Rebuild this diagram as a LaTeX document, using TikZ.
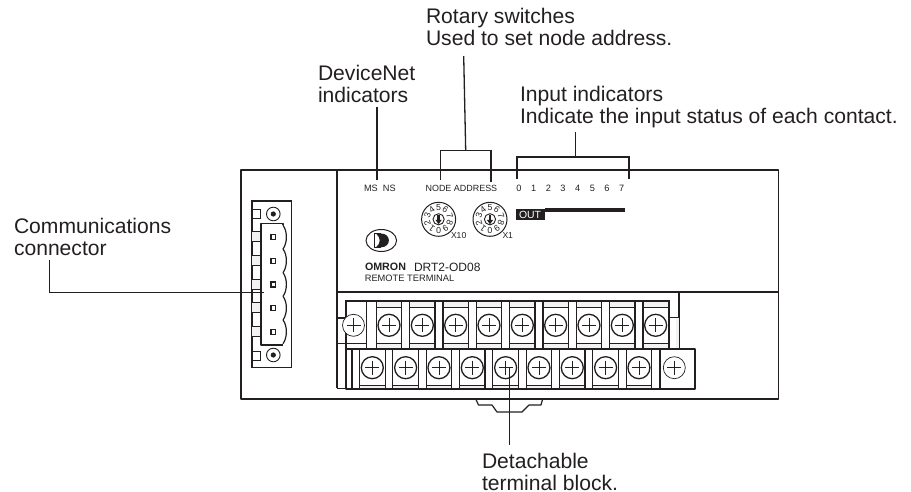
\documentclass[tikz,border=0pt]{standalone}
\usepackage{fontspec}
\usetikzlibrary{shapes.geometric}
\setmainfont{Liberation Sans}
\definecolor{ink}{HTML}{231F20}
\definecolor{band}{HTML}{F2F2F2}
\newcommand{\pxfont}[2]{\fontsize{#1}{#2}\selectfont}
\tikzset{
  heavy/.style={draw=ink,line width=1.6pt},
  medium/.style={draw=ink,line width=1.2pt},
  fine/.style={draw=ink,line width=0.6pt},
  leader/.style={draw=ink,line width=1.3pt},
  callout/.style={inner sep=0pt,outer sep=0pt,align=left,anchor=base west,text=ink,font=\pxfont{21.1}{22}},
  panel/.style={inner sep=0pt,outer sep=0pt,anchor=base west,text=ink},
  screwhead/.style={draw=ink,line width=1.3pt,fill=white,circle,minimum size=22pt,inner sep=0pt},
  lightscrew/.style={draw=ink,line width=0.7pt,fill=white,circle,minimum size=22pt,inner sep=0pt},
}
\begin{document}
\begin{tikzpicture}[x=1pt,y=-1pt]
\useasboundingbox (0,0) rectangle (911,492);
% housing
\draw[heavy,line join=round] (241,170) rectangle (778.5,399);
\draw[heavy] (337,170) -- (337,388);
\draw[heavy] (337,292) -- (778.5,292);
\draw[heavy] (679,292) -- (679,349);
% DIN tab
\draw[medium,line join=round] (476,399.5) -- (478.5,405) -- (492,405) -- (497,412) -- (522,412) -- (529,405) -- (541,405) -- (542.5,399.5);
% connector body
\draw[medium] (252,201) rectangle (291.7,367.7);
\foreach \k in {0,...,4}{
  \fill[band] (252,231.7+23.67*\k) rectangle (261,241.7+23.67*\k);
  \draw[fine] (252,231.7+23.67*\k) -- (261,231.7+23.67*\k);
  \draw[fine] (252,241.7+23.67*\k) -- (261,241.7+23.67*\k);
}
\draw[fine,line width=0.8pt] (252,209) rectangle (260.7,218.7);
\draw[fine,line width=0.8pt] (252,351) rectangle (260.7,360);
\foreach \cy in {214,355}{
  \draw[ink,line width=0.9pt] (273.3,\cy) circle (6.8);
  \fill[ink] (273.3,\cy) circle (2.6);
}
\draw[medium,line join=round] (283,225.3) -- (283,223.3) -- (261,223.3) -- (261,345) -- (283,345);
\foreach \k in {0,...,4}{
  \draw[medium] (283,225.3+23.67*\k) .. controls (287.5,231+23.67*\k) and (287.5,243+23.67*\k) .. (283,249+23.67*\k);
  \draw[ink,line width=1.2pt,fill=white] (270.9,234.6+23.67*\k) rectangle (275.7,239.6+23.67*\k);
}
% top terminal row
\fill[band] (376,301) rectangle (669,307.5);
\fill[band] (376,343) rectangle (669,349);
\fill[band] (669,318) rectangle (679,349);
\foreach \i in {0,...,8}{
  \pgfmathsetmacro{\cx}{389+33.33*\i}
  \fill[white] (\cx-12.7,307.5) rectangle (\cx+12.7,343.5);
  \draw[medium] (\cx-12.7,301) -- (\cx-12.7,349);
  \draw[medium] (\cx+12.7,301) -- (\cx+12.7,349);
  \draw[fine,line width=0.9pt] (\cx-12.7,307.5) -- (\cx+12.7,307.5);
  \draw[fine,line width=0.9pt] (\cx-12.7,343.5) -- (\cx+12.7,343.5);
  \fill[white] (\cx+13.3,301.6) rectangle (\cx+20,348.4);
}
\draw[medium] (366.7,301) -- (366.7,349);
\draw[fine,line width=0.8pt] (337,343.5) -- (366.7,343.5);
\draw[medium] (346,349) -- (346,301) -- (669,301) -- (669,349);
\draw[heavy] (337,318) -- (347,318);
\draw[medium] (669,317.5) -- (679,317.5);
\foreach \i in {0,...,8}{
  \pgfmathsetmacro{\cx}{389+33.33*\i}
  \node[screwhead] (top\i) at (\cx,325.3) {};
  \draw[fine,line width=0.8pt] (\cx-7,325.3) -- (\cx+7,325.3) (\cx,318.3) -- (\cx,332.3);
}
\node[lightscrew] (topfirst) at (353.5,325.3) {};
\draw[fine] (346.5,325.3) -- (360.5,325.3) (353.5,318.3) -- (353.5,332.3);
% bottom terminal row
\fill[band] (361,385) rectangle (660,389);
\foreach \i in {0,...,8}{
  \pgfmathsetmacro{\cx}{372.3+33.33*\i}
  \draw[medium] (\cx-12.8,349) -- (\cx-12.8,389);
  \draw[medium] (\cx+12.8,349) -- (\cx+12.8,389);
  \draw[fine,line width=0.9pt] (\cx-12.8,385) -- (\cx+12.8,385);
  \fill[white] (\cx+13.4,349.6) rectangle (\cx+19.9,388.4);
}
\draw[medium] (660,349) -- (660,389);
\draw[medium] (352,349) -- (352,389);
\draw[heavy,line join=round] (346,349) rectangle (695,389);
\draw[heavy] (337,388.5) -- (346,388.5);
\foreach \i in {0,...,8}{
  \pgfmathsetmacro{\cx}{372.3+33.33*\i}
  \node[screwhead] (bot\i) at (\cx,367.7) {};
  \draw[fine,line width=0.8pt] (\cx-7,367.7) -- (\cx+7,367.7) (\cx,360.7) -- (\cx,374.7);
}
\node[lightscrew] (botlast) at (674.3,367.7) {};
\draw[fine] (667.3,367.7) -- (681.3,367.7) (674.3,360.7) -- (674.3,374.7);
% panel print
\node[panel,font=\pxfont{9.2}{10}] (msns) at (364,192) {MS\ \ NS};
\node[panel,font=\pxfont{8.95}{10}] (nodeaddr) at (425.6,192) {NODE ADDRESS};
\foreach \d in {0,...,7}{
  \node[inner sep=0pt,text=ink,font=\pxfont{9.2}{10},anchor=base] (led\d) at (519+14.67*\d,192) {\d};
}
\fill[ink] (516,208.7) rectangle (545,220);
\fill[ink] (545,208.3) rectangle (625,212);
\node[panel,text=white,font=\pxfont{10.4}{11}] (out) at (519,218.2) {OUT};
\foreach \name/\sx in {a/438.6,b/490}{
  \node[draw=ink,line width=1pt,circle,minimum size=34pt,inner sep=0pt] (dial\name) at (\sx,219.3) {};
  \draw[ink,line width=0.9pt] (\sx,219.3) circle (5.6);
  \fill[ink] (\sx-1.2,214.8) rectangle (\sx+1.2,220.5);
  \fill[ink] (\sx-3.2,219.8) -- (\sx+3.2,219.8) -- (\sx,224.2) -- cycle;
  \foreach \dg [count=\n from 0] in {5,6,7,8,9,0,1,2,3,4}{
    \pgfmathsetmacro{\ang}{90-36*\n}
    \node[inner sep=0pt,text=ink,font=\pxfont{8.8}{8.8},rotate=\ang-90] at ({\sx+11.6*cos(\ang)},{219.3-11.6*sin(\ang)}) {\dg};
  }
}
\node[panel,font=\pxfont{8.6}{9}] (xten) at (451,239) {X10};
\node[panel,font=\pxfont{8.6}{9}] (xone) at (502.5,239) {X1};
% logo
\node[draw=ink,line width=1pt,ellipse,minimum width=30.6pt,minimum height=22pt,inner sep=0pt] (logo) at (381.3,240.5) {};
\fill[ink] (376,233.5) -- (381,233.5) .. controls (391.5,233.5) and (391.5,247.3) .. (381,247.3) -- (376,247.3) .. controls (381,243) and (381,238) .. (376,233.5) -- cycle;
\draw[ink,line width=0.7pt] (374.3,233.5) -- (381,233.5) (374.3,233.5) -- (374.3,247.3) -- (381,247.3);
\node[panel,font=\bfseries\pxfont{10.7}{12}] (omron) at (365,270.3) {OMRON};
\node[panel,font=\pxfont{12}{13}] (model) at (414,271) {DRT2-OD08};
\node[panel,font=\pxfont{9.3}{10}] (remote) at (364.8,281) {REMOTE TERMINAL};
% callouts
\node[callout] (rotary) at (426,46) {Rotary switches\\Used to set node address.};
\node[callout] (devnet) at (318,102.7) {DeviceNet\\indicators};
\node[callout] (input) at (520,124) {Input indicators\\Indicate the input status of each contact.};
\node[callout] (comm) at (14,255) {Communications\\connector};
\node[callout] (detach) at (482,490) {Detachable\\terminal block.};
% leaders
\coordinate (devtop) at (377,107);
\coordinate (devend) at (377,180);
\draw[leader] (devtop) -- (devend);
\coordinate (rottop) at (463.7,56);
\coordinate (rotfoot) at (465.7,150.5);
\coordinate (rotl) at (440.3,180);
\coordinate (rotr) at (491,182);
\draw[leader] (rottop) -- (rotfoot);
\draw[leader,line join=miter] (rotl) |- (rotr |- rotfoot) -- (rotr);
\coordinate (inptop) at (575.3,132);
\coordinate (inpfoot) at (575.3,157);
\coordinate (inpl) at (517,179);
\coordinate (inpr) at (629,179);
\draw[leader] (inptop) -- (inpfoot);
\draw[leader,line width=1.5pt] (inpl) |- (inpfoot) -| (inpr);
\coordinate (commtop) at (49.7,260);
\coordinate (commend) at (264,292.5);
\draw[leader] (commtop) |- (commend);
\coordinate (dettop) at (509.3,368);
\coordinate (detend) at (509.3,445);
\draw[leader] (dettop) -- (detend);
\end{tikzpicture}
\end{document}
